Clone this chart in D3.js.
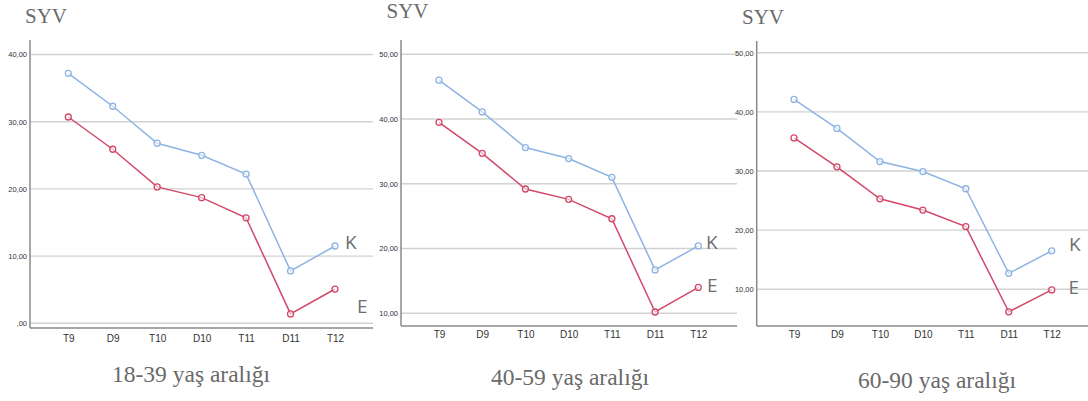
<!DOCTYPE html>
<html>
<head>
<meta charset="utf-8">
<script src="https://cdn.jsdelivr.net/npm/d3@7/dist/d3.min.js"></script>
<style>
  html, body { margin: 0; padding: 0; background: #fff; }
  svg { display: block; }
</style>
</head>
<body>
<svg id="chart" width="1088" height="401"></svg>
<script>
// ---- data ----
const categories = ["T9", "D9", "T10", "D10", "T11", "D11", "T12"];
const panelTitles = ["18-39 yaş aralığı", "40-59 yaş aralığı", "60-90 yaş aralığı"];
const yAxisLabel = "SYV";
const seriesNames = ["K", "E"];

const kValues1839 = [37.2, 32.3, 26.8, 25.0, 22.2, 7.8, 11.5];
const eValues1839 = [30.7, 25.9, 20.3, 18.7, 15.7, 1.4, 5.1];
const kValues4059 = [46.0, 41.1, 35.6, 33.9, 31.0, 16.7, 20.4];
const eValues4059 = [39.5, 34.7, 29.2, 27.6, 24.6, 10.2, 14.0];
const kValues6090 = [42.1, 37.2, 31.6, 29.9, 27.0, 12.7, 16.5];
const eValues6090 = [35.6, 30.7, 25.3, 23.4, 20.6, 6.2, 9.9];

const ticks1839 = [0, 10, 20, 30, 40];
const ticks4059 = [10, 20, 30, 40, 50];
const ticks6090 = [10, 20, 30, 40, 50];

// ---- layout (positions / styles) ----
const colors = { K: "#8db4e2", E: "#d2486a" };
const layouts = [
  { k: kValues1839, e: eValues1839, ticks: ticks1839, dom: [0, 40], yr: [323.3, 54.5],
    ax: 30, top: 40, xaxisY: 328, gridEnd: 373, xr: [68.3, 335], xlabY: 342,
    kLab: [345, 242], eLab: [357, 306], cap: [191, 382], syv: [25, 22.7] },
  { k: kValues4059, e: eValues4059, ticks: ticks4059, dom: [10, 50], yr: [313.3, 54.3],
    ax: 401, top: 40, xaxisY: 326, gridEnd: 737, xr: [439, 698.3], xlabY: 338,
    kLab: [706, 242], eLab: [707, 285], cap: [570, 385], syv: [386.5, 18.3] },
  { k: kValues6090, e: eValues6090, ticks: ticks6090, dom: [10, 50], yr: [289.3, 52.7],
    ax: 756.7, top: 41, xaxisY: 326, gridEnd: 1088, xr: [794, 1051.7], xlabY: 338,
    kLab: [1069, 244.3], eLab: [1068.5, 287.3], cap: [937, 388], syv: [742, 24.3] }
];

const svg = d3.select("#chart");
const fmt = v => d3.format(".2f")(v).replace(".", ",").replace(/^0,/, ",");

layouts.forEach((L, i) => {
  const g = svg.append("g");
  const y = d3.scaleLinear().domain(L.dom).range(L.yr);
  const x = d3.scalePoint().domain(categories).range(L.xr);

  // gridlines
  g.selectAll("line.grid").data(L.ticks).join("line")
    .attr("x1", L.ax).attr("x2", L.gridEnd)
    .attr("y1", d => y(d)).attr("y2", d => y(d))
    .attr("stroke", "#d2d2d2").attr("stroke-width", 1.4);

  // y axis via d3.axisLeft (labels only, no domain/ticks)
  const yAxis = g.append("g").attr("transform", `translate(${L.ax - 3},0)`)
    .call(d3.axisLeft(y).tickValues(L.ticks).tickFormat(fmt).tickSize(0).tickPadding(0));
  yAxis.select(".domain").remove();
  yAxis.selectAll("text")
    .attr("font-family", "'Liberation Sans Narrow', 'Liberation Sans', Arial, sans-serif")
    .attr("font-size", 7.5).attr("fill", "#333");

  // axis lines
  g.append("line").attr("x1", L.ax).attr("x2", L.ax).attr("y1", L.top).attr("y2", L.xaxisY)
    .attr("stroke", "#8a8a8a").attr("stroke-width", 1.5);
  g.append("line").attr("x1", L.ax).attr("x2", L.gridEnd).attr("y1", L.xaxisY).attr("y2", L.xaxisY)
    .attr("stroke", "#8a8a8a").attr("stroke-width", 1.5);

  // x axis labels via d3.axisBottom
  const xAxis = g.append("g").attr("transform", `translate(0,${L.xlabY - 7})`)
    .call(d3.axisBottom(x).tickSize(0).tickPadding(0));
  xAxis.select(".domain").remove();
  xAxis.selectAll("text")
    .attr("font-family", "'Liberation Sans Narrow', 'Liberation Sans', Arial, sans-serif")
    .attr("font-size", 10).attr("fill", "#333").attr("dy", "0.71em");

  // series
  const series = [{ name: "K", vals: L.k }, { name: "E", vals: L.e }];
  const line = d3.line().x((d, j) => x(categories[j])).y(d => y(d));
  series.forEach(s => {
    g.append("path").datum(s.vals).attr("d", line)
      .attr("fill", "none").attr("stroke", colors[s.name]).attr("stroke-width", 1.5);
    g.selectAll(null).data(s.vals).join("circle")
      .attr("cx", (d, j) => x(categories[j])).attr("cy", d => y(d)).attr("r", 3)
      .attr("fill", "#fff").attr("fill-opacity", 0.6)
      .attr("stroke", colors[s.name]).attr("stroke-width", 1.3);
  });

  // series labels
  [["K", L.kLab], ["E", L.eLab]].forEach(([t, p]) => {
    g.append("text").attr("x", p[0]).attr("y", p[1]).attr("dy", "0.36em")
      .attr("font-family", "'Open Sans', 'Noto Sans', sans-serif")
      .attr("font-size", 19).attr("fill", "#6e6e6e").text(t);
  });

  // SYV
  g.append("text").attr("x", L.syv[0]).attr("y", L.syv[1])
    .attr("font-family", "'Liberation Serif', 'Times New Roman', serif")
    .attr("font-size", 21).attr("fill", "#6a6a6a").text(yAxisLabel);

  // caption
  g.append("text").attr("x", L.cap[0]).attr("y", L.cap[1]).attr("text-anchor", "middle")
    .attr("font-family", "'Liberation Serif', 'Times New Roman', serif")
    .attr("font-size", 23.5).attr("fill", "#6a6a6a").text(panelTitles[i]);
});
</script>
</body>
</html>
